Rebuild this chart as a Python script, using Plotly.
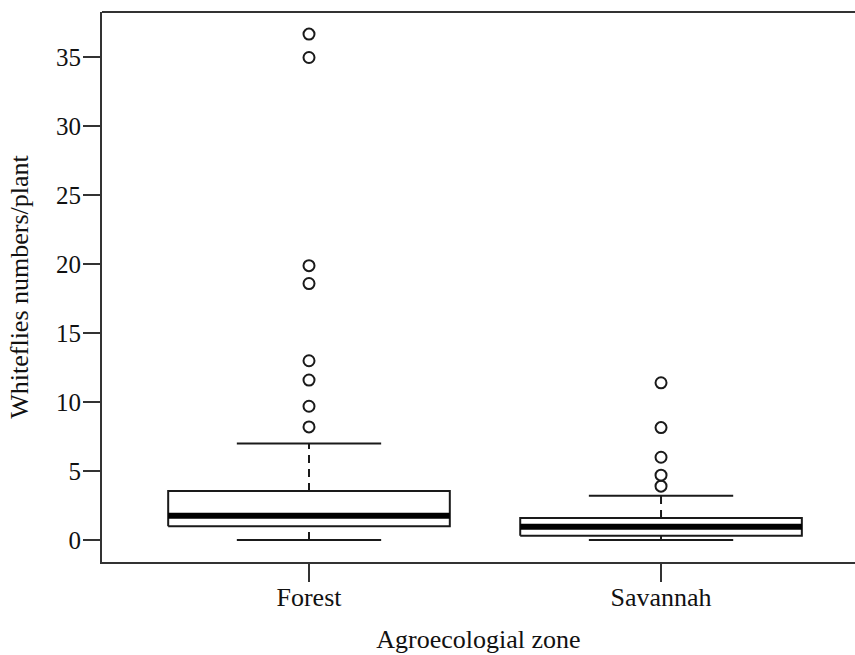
import plotly.graph_objects as go

# ---- data ----
categories = ["Forest", "Savannah"]
q1 = [1.0, 0.3]
medians = [1.76, 0.96]
q3 = [3.55, 1.6]
lower_whisker = [0.0, 0.0]
upper_whisker = [7.0, 3.2]
outliers_forest = [36.7, 35.0, 19.9, 18.6, 13.0, 11.6, 9.7, 8.2]
outliers_savannah = [11.4, 8.15, 6.0, 4.7, 3.9]
outliers = [outliers_forest, outliers_savannah]
y_ticks = [0, 5, 10, 15, 20, 25, 30, 35]

# ---- style ----
BOX_HALF = 0.40
CAP_HALF = 0.205
INK = "#1a1a1a"
FONT = "Liberation Serif"

fig = go.Figure()

for i, cat in enumerate(categories):
    xl, xr = i - BOX_HALF, i + BOX_HALF
    # whiskers (dashed vertical)
    fig.add_trace(go.Scatter(x=[i, i], y=[q3[i], upper_whisker[i]], mode="lines",
                             line=dict(color=INK, width=2, dash="8px,6px"),
                             showlegend=False, hoverinfo="skip"))
    fig.add_trace(go.Scatter(x=[i, i], y=[lower_whisker[i], q1[i]], mode="lines",
                             line=dict(color=INK, width=2, dash="8px,6px"),
                             showlegend=False, hoverinfo="skip"))
    # caps
    for w in (upper_whisker[i], lower_whisker[i]):
        fig.add_trace(go.Scatter(x=[i - CAP_HALF, i + CAP_HALF], y=[w, w], mode="lines",
                                 line=dict(color=INK, width=2),
                                 showlegend=False, hoverinfo="skip"))
    # box
    fig.add_trace(go.Scatter(x=[xl, xr, xr, xl, xl], y=[q1[i], q1[i], q3[i], q3[i], q1[i]],
                             mode="lines", fill="toself", fillcolor="white",
                             line=dict(color=INK, width=2),
                             showlegend=False, hoverinfo="skip"))
    # median
    fig.add_trace(go.Scatter(x=[xl, xr], y=[medians[i], medians[i]], mode="lines",
                             line=dict(color="black", width=6),
                             showlegend=False, hoverinfo="skip"))
    # outliers
    fig.add_trace(go.Scatter(x=[i] * len(outliers[i]), y=outliers[i], mode="markers",
                             marker=dict(symbol="circle-open", size=11,
                                         line=dict(color=INK, width=2), color=INK),
                             showlegend=False))

# top frame line
fig.add_shape(type="line", xref="paper", yref="paper", x0=0, x1=1, y0=1, y1=1,
              line=dict(color="#333", width=2))

fig.update_layout(
    width=855, height=655,
    margin=dict(l=102, r=0, t=12, b=93, autoexpand=False),
    paper_bgcolor="white", plot_bgcolor="white",
    font=dict(family=FONT, size=25, color="#111"),
    xaxis=dict(range=[-0.588, 1.551], tickvals=list(range(len(categories))),
               ticktext=categories, showgrid=False, zeroline=False, automargin=False,
               showline=True, linecolor="#333", linewidth=2,
               ticks="outside", ticklen=18, tickwidth=2, tickcolor="#333",
               ticklabelstandoff=-7,
               tickfont=dict(family=FONT, size=26),
               title=dict(text="Agroecologial zone", font=dict(family=FONT, size=26),
                          standoff=19)),
    yaxis=dict(range=[-1.6, 38.3], tickvals=y_ticks,
               showgrid=False, zeroline=False, automargin=False,
               showline=True, linecolor="#333", linewidth=2,
               ticks="outside", ticklen=17, tickwidth=2, tickcolor="#333",
               ticklabelstandoff=-3,
               tickfont=dict(family=FONT, size=25),
               title=dict(text="Whiteflies numbers/plant", font=dict(family=FONT, size=26),
                          standoff=20)),
)

fig.write_html("out.html", config={"displayModeBar": False},
               post_script="document.body.style.margin='0';document.body.style.overflow='hidden';")
